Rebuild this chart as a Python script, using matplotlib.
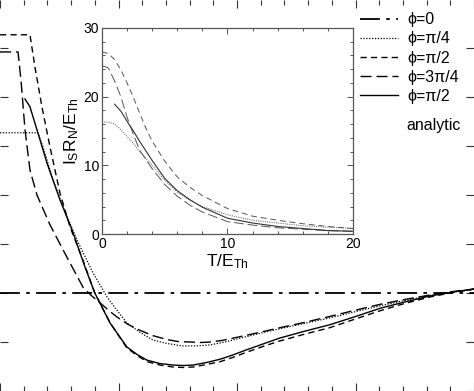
import matplotlib
matplotlib.use("Agg")
import matplotlib.pyplot as plt
from matplotlib.ticker import MultipleLocator

plt.rcParams['font.family'] = ['Liberation Sans', 'DejaVu Sans']
plt.rcParams['mathtext.fontset'] = 'custom'
plt.rcParams['mathtext.rm'] = 'Liberation Sans'
plt.rcParams['mathtext.it'] = 'Liberation Sans'

# ---- main panel data ----
phi0_x = [0.0, 4.0]
phi0_y = [0.0, 0.0]

pi4_x = [0, 0.32, 0.363, 0.447, 0.549, 0.65, 0.785, 0.903, 0.98, 1.07, 1.18, 1.29, 1.41, 1.54, 1.66, 1.77,
         1.90, 2.03, 2.20, 2.36, 2.57, 2.78, 3.0, 3.21, 3.42, 3.63, 3.82, 4.0]
pi4_y = [3.27, 3.27, 2.98, 2.31, 1.65, 1.08, 0.41, -0.08, -0.33, -0.61, -0.80, -0.96, -1.03, -1.08, -1.08, -1.06,
         -1.00, -0.92, -0.82, -0.73, -0.62, -0.51, -0.38, -0.26, -0.15, -0.05, 0.02, 0.08]

pi2_x = [0, 0.253, 0.295, 0.354, 0.422, 0.506, 0.591, 0.70, 0.80, 0.93, 1.07, 1.16, 1.24, 1.35, 1.46, 1.55,
         1.63, 1.74, 1.86, 1.97, 2.08, 2.22, 2.36, 2.57, 2.78, 3.0, 3.21, 3.42, 3.63, 3.82, 4.0]
pi2_y = [5.27, 5.27, 4.61, 3.80, 2.98, 2.04, 1.35, 0.67, 0.0, -0.61, -1.12, -1.28, -1.40, -1.47, -1.51, -1.52,
         -1.51, -1.46, -1.40, -1.31, -1.21, -1.09, -0.98, -0.84, -0.71, -0.53, -0.36, -0.21, -0.08, 0.01, 0.08]

pi34_x = [0, 0.152, 0.177, 0.211, 0.253, 0.312, 0.422, 0.565, 0.70, 0.77, 0.844, 0.92, 0.987, 1.08, 1.18, 1.29,
          1.41, 1.50, 1.60, 1.70, 1.77, 1.87, 1.97, 2.16, 2.36, 2.57, 2.78, 3.0, 3.21, 3.42, 3.63, 3.82, 4.0]
pi34_y = [4.92, 4.92, 4.35, 3.33, 2.51, 2.00, 1.39, 0.73, 0.12, -0.05, -0.20, -0.36, -0.49, -0.64, -0.76, -0.87,
          -0.95, -0.99, -1.00, -1.01, -1.00, -0.97, -0.92, -0.82, -0.71, -0.60, -0.48, -0.35, -0.23, -0.13, -0.04, 0.03, 0.08]

ana_x = [0.211, 0.253, 0.312, 0.397, 0.506, 0.608, 0.717, 0.80, 0.928, 1.07, 1.16, 1.24, 1.35, 1.46, 1.55, 1.63,
         1.74, 1.86, 1.97, 2.08, 2.22, 2.36, 2.57, 2.78, 3.0, 3.21, 3.42, 3.63, 3.82, 4.0]
ana_y = [3.96, 3.80, 3.33, 2.65, 1.90, 1.29, 0.53, 0.0, -0.61, -1.10, -1.26, -1.37, -1.44, -1.47, -1.48, -1.47,
         -1.42, -1.35, -1.26, -1.16, -1.04, -0.92, -0.78, -0.65, -0.48, -0.31, -0.18, -0.06, 0.02, 0.08]

# ---- inset data ----
in_pi2_x = [0, 0.5, 1, 1.5, 2, 2.5, 3, 3.5, 4, 5, 6, 7, 8, 10, 12, 14, 16, 18, 20]
in_pi2_y = [26.5, 26.3, 25.4, 23.9, 22.0, 19.9, 17.6, 15.4, 13.5, 10.6, 8.3, 6.8, 5.6, 3.7, 2.6, 2.0, 1.5, 1.1, 0.8]

in_pi34_x = [0, 0.5, 1, 1.5, 2, 2.5, 3, 4, 5, 6, 7, 8, 10, 12, 14, 16, 18, 20]
in_pi34_y = [24.5, 24.2, 22.3, 20.0, 17.0, 14.5, 12.2, 9.5, 7.2, 5.5, 4.2, 3.2, 1.8, 1.3, 0.9, 0.7, 0.5, 0.4]

in_pi4_x = [0, 0.5, 1, 1.5, 2, 2.5, 3, 4, 5, 6, 7, 8, 10, 12, 14, 16, 18, 20]
in_pi4_y = [16.3, 16.3, 16.0, 15.2, 14.2, 13.2, 12.0, 10.0, 7.8, 6.1, 4.9, 4.0, 2.8, 2.0, 1.6, 1.2, 1.0, 0.8]

in_ana_x = [1, 1.5, 2, 2.5, 3, 4, 5, 6, 7, 8, 10, 12, 14, 16, 18, 20]
in_ana_y = [18.9, 17.9, 16.4, 15.0, 13.5, 10.7, 8.1, 6.3, 5.0, 3.9, 2.3, 1.6, 1.1, 0.8, 0.5, 0.4]

labels = ['\u03d5=0', '\u03d5=\u03c0/4', '\u03d5=\u03c0/2', '\u03d5=3\u03c0/4', '\u03d5=\u03c0/2']

ls_dashdot = (0, (11, 3.5, 2, 3.5))
ls_dot = (0, (1, 1.3))
ls_short = (0, (4.5, 3))
ls_long = (0, (8, 3.5))

fig = plt.figure(figsize=(4.74, 3.91), dpi=100)
ax = fig.add_axes([0, 0, 1, 1])
for s in ax.spines.values():
    s.set_visible(False)

h0, = ax.plot(phi0_x, phi0_y, color='black', lw=1.3, ls=ls_dashdot)
h1, = ax.plot(pi4_x, pi4_y, color='black', lw=0.9, ls=ls_dot)
h2, = ax.plot(pi2_x, pi2_y, color='black', lw=1.0, ls=ls_short)
h3, = ax.plot(pi34_x, pi34_y, color='black', lw=1.0, ls=ls_long)
h4, = ax.plot(ana_x, ana_y, color='black', lw=1.0)

ax.set_xlim(0, 4)
ax.set_ylim(-2.0, 5.98)
ax.xaxis.set_major_locator(MultipleLocator(1))
ax.xaxis.set_minor_locator(MultipleLocator(0.2))
ax.yaxis.set_major_locator(MultipleLocator(1))
ax.tick_params(which='both', direction='in', top=True, right=True,
               labelbottom=False, labelleft=False, color='#333333', width=0.8)
ax.tick_params(which='major', length=6)
ax.tick_params(which='minor', length=3.5)

leg = ax.legend([h0, h1, h2, h3, h4], labels, loc='upper left',
                bbox_to_anchor=(0.745, 0.985), frameon=False, fontsize=11.5,
                handlelength=2.4, handletextpad=0.6, labelspacing=0.26,
                borderaxespad=0)
ax.text(0.858, 0.68, 'analytic', transform=ax.transAxes, fontsize=11.5,
        ha='left', va='center')

# ---- inset ----
ins = fig.add_axes([0.2152, 0.4015, 0.5295, 0.5269])
gray = '#555555'
ins.plot(in_pi4_x, in_pi4_y, color=gray, lw=0.7, ls=ls_dot)
ins.plot(in_pi2_x, in_pi2_y, color=gray, lw=0.7, ls=(0, (6, 4)))
ins.plot(in_pi34_x, in_pi34_y, color=gray, lw=0.7, ls=(0, (10, 4)))
ins.plot(in_ana_x, in_ana_y, color='#333333', lw=0.8)
ins.set_xlim(0, 20)
ins.set_ylim(0, 30)
ins.xaxis.set_major_locator(MultipleLocator(10))
ins.xaxis.set_minor_locator(MultipleLocator(2))
ins.yaxis.set_major_locator(MultipleLocator(10))
ins.yaxis.set_minor_locator(MultipleLocator(2))
ins.tick_params(which='both', direction='in', top=True, right=True,
                labelsize=10, color=gray, width=0.7, pad=2)
ins.tick_params(which='major', length=4)
ins.tick_params(which='minor', length=2.5)
for s in ins.spines.values():
    s.set_color(gray)
    s.set_linewidth(0.9)
ins.set_xlabel(r'T/E$_{\mathregular{Th}}$', fontsize=12.5, labelpad=1)
ins.set_ylabel(r'I$_{\mathregular{S}}$R$_{\mathregular{N}}$/E$_{\mathregular{Th}}$', fontsize=12.5, labelpad=2)

fig.savefig('out.png', dpi=100)
